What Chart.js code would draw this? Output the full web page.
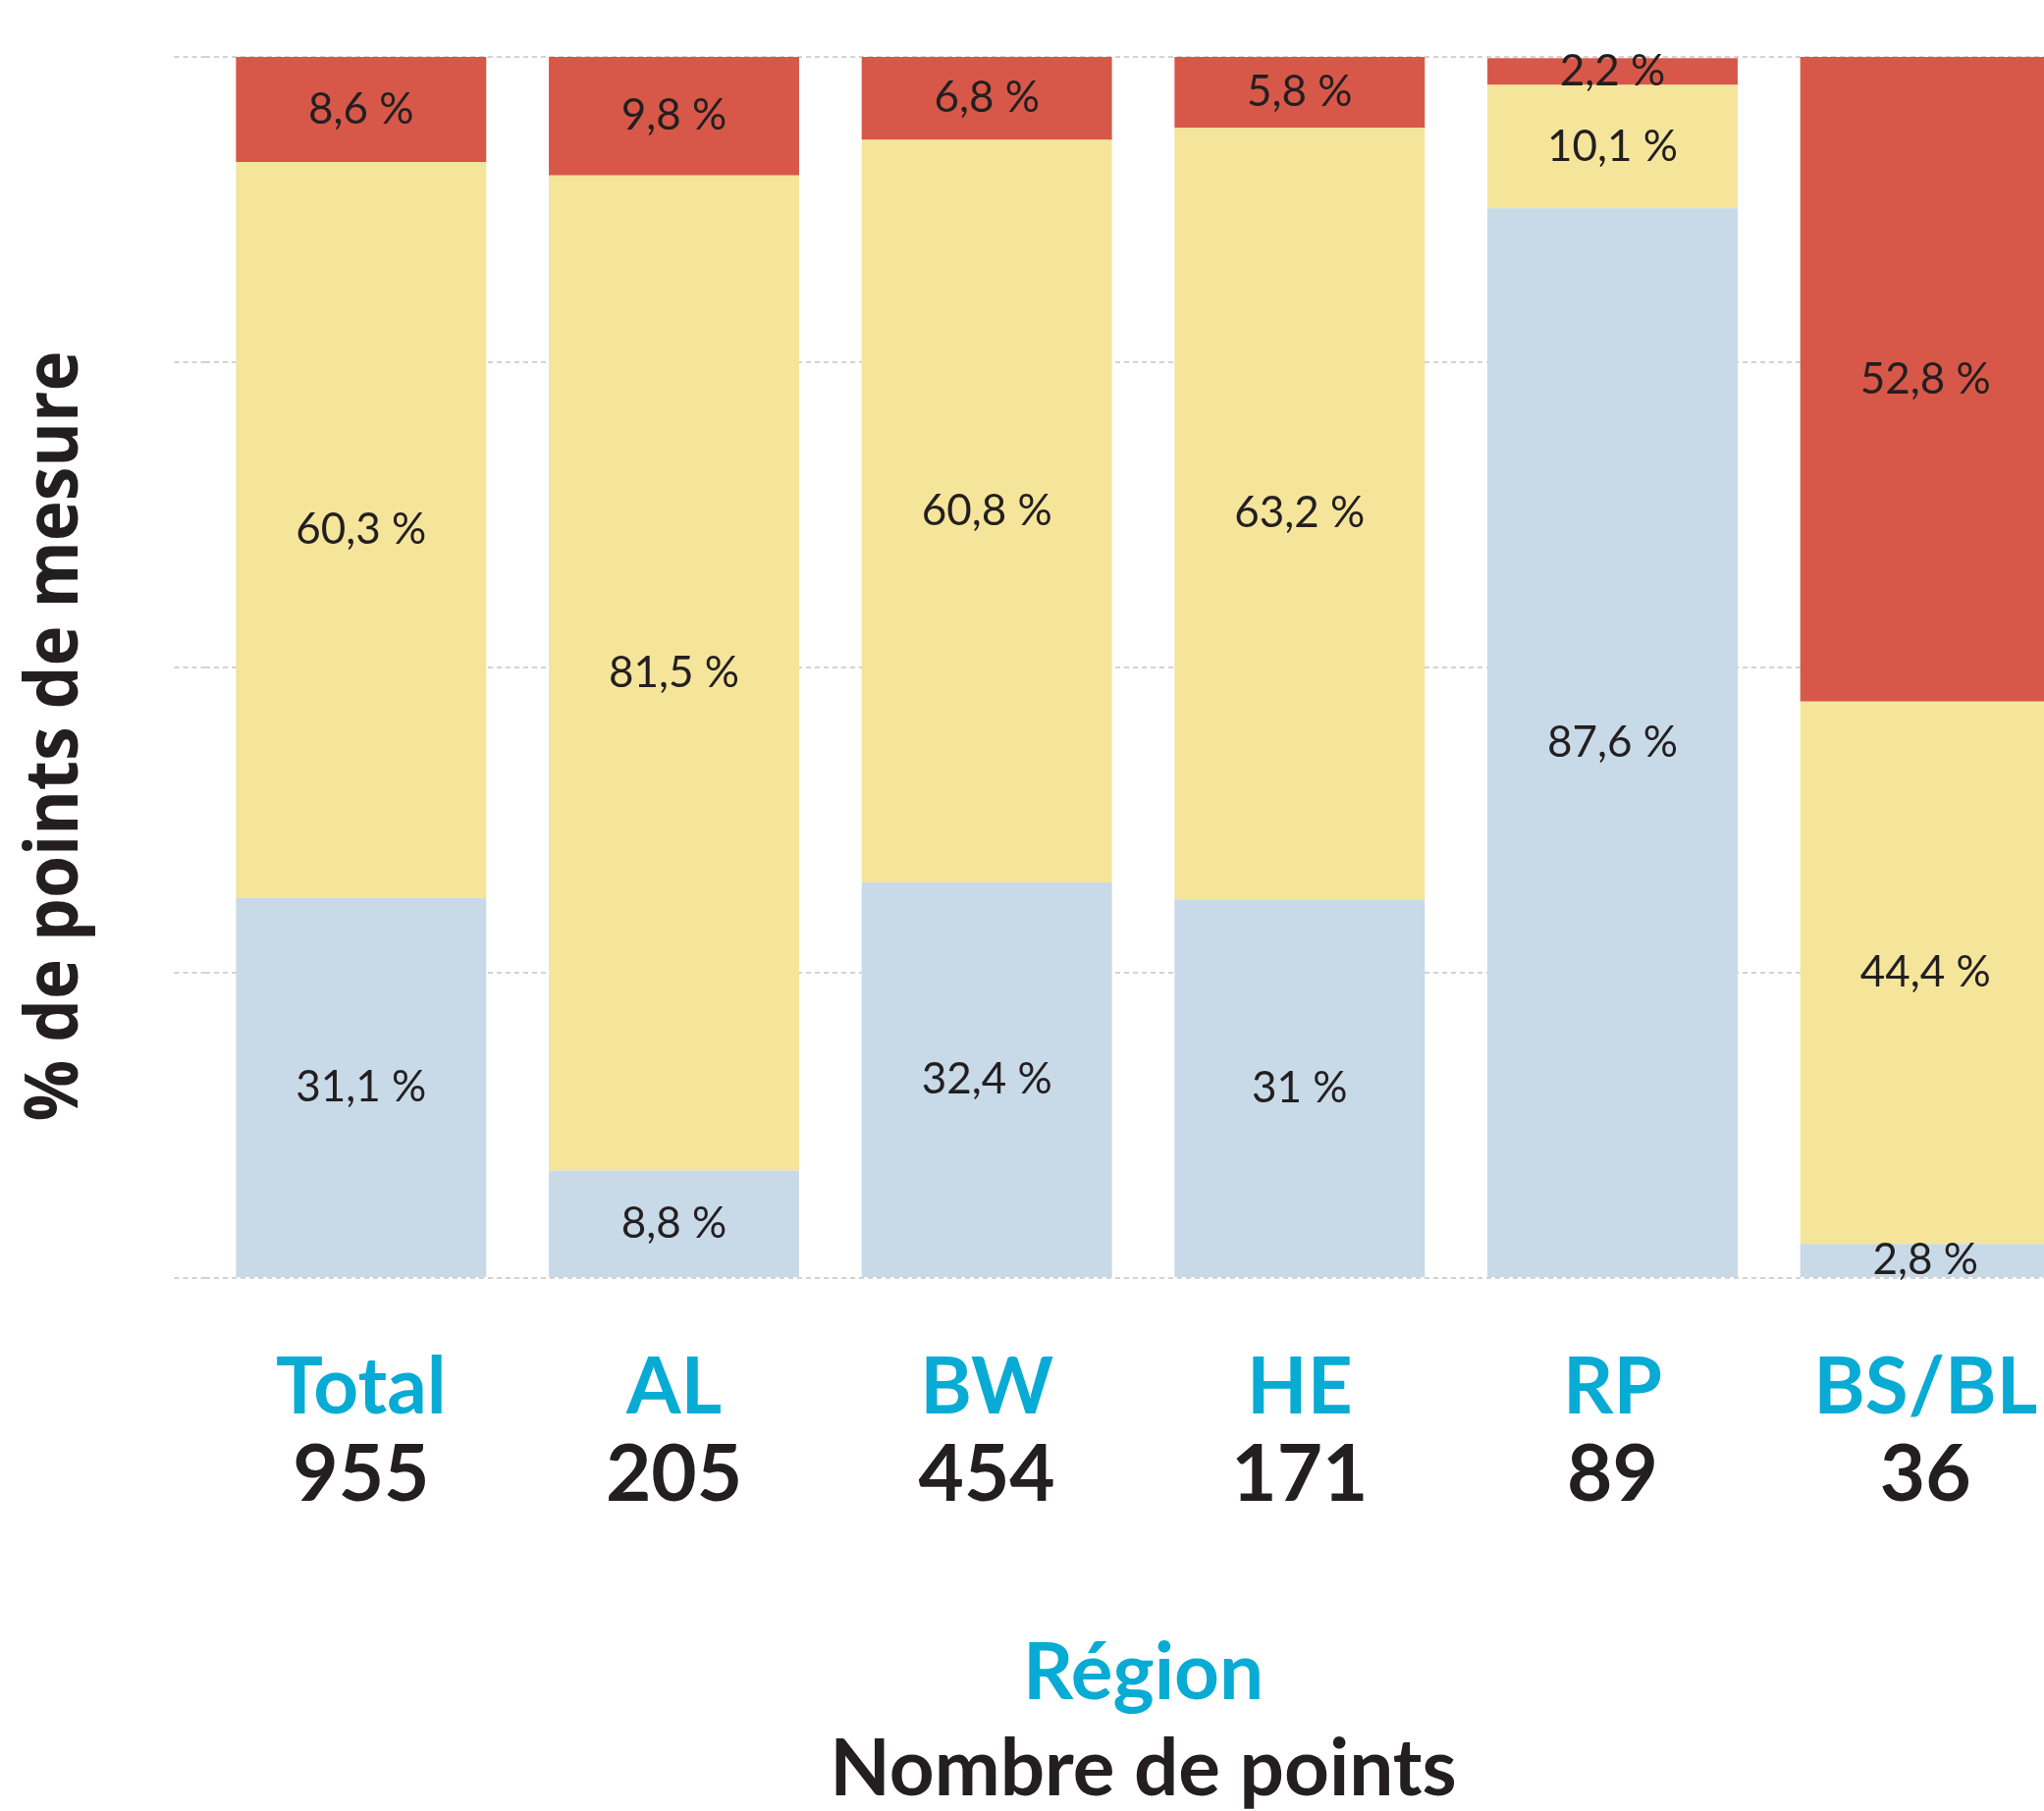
<!DOCTYPE html>
<html lang="fr">
<head>
<meta charset="utf-8">
<title>% de points de mesure par région</title>
<script src="https://cdn.jsdelivr.net/npm/chart.js@4"></script>
<style>
    html, body { margin: 0; padding: 0; background: #ffffff; overflow: hidden; }
    #graphique { display: block; width: 2128px; height: 1845px; }
</style>
</head>
<body>
<canvas id="graphique" width="2128" height="1845"></canvas>
<script>
// Données
const regions = ['Total', 'AL', 'BW', 'HE', 'RP', 'BS/BL'];
const nombrePoints = ['955', '205', '454', '171', '89', '36'];
const partBleu = [31.1, 8.8, 32.4, 31, 87.6, 2.8];
const partJaune = [60.3, 81.5, 60.8, 63.2, 10.1, 44.4];
const partRouge = [8.6, 9.8, 6.8, 5.8, 2.2, 52.8];
const graduationsY = [0, 25, 50, 75, 100];

const titreY = '% de points de mesure';
const titreRegion = 'Région';
const titreNombre = 'Nombre de points';

const cyan = '#08abd4';
const noir = '#231f20';

function formatPct(v)
{
    return String(v).replace('.', ',') + ' %';
}

// Étiquettes au centre de chaque segment
const etiquettesPlugin = {
    id: 'etiquettes',
    afterDatasetsDraw: (chart) =>
    {
        const { ctx } = chart;
        ctx.save();
        ctx.font = '44px Lato';
        ctx.fillStyle = noir;
        ctx.textAlign = 'center';
        ctx.textBaseline = 'middle';
        chart.data.datasets.forEach((ds, i) =>
        {
            chart.getDatasetMeta(i).data.forEach((bar, j) =>
            {
                const { x, y, base } = bar.getProps(['x', 'y', 'base'], true);
                ctx.fillText(formatPct(ds.data[j]), x, (y + base) / 2);
            });
        });
        ctx.restore();
    }
};

// Titre vertical à gauche (un peu plus bas que le centre de l'axe)
const titreYPlugin = {
    id: 'titreY',
    afterDraw: (chart) =>
    {
        const { ctx } = chart;
        ctx.save();
        ctx.font = 'bold 76px "Open Sans"';
        const largeur = ctx.measureText(titreY).width;
        ctx.translate(79, 750);
        ctx.rotate(-Math.PI / 2);
        ctx.scale(785 / largeur, 1);
        ctx.fillStyle = noir;
        ctx.textAlign = 'center';
        ctx.textBaseline = 'alphabetic';
        ctx.fillText(titreY, 0, 0);
        ctx.restore();
    }
};

document.addEventListener('DOMContentLoaded', () =>
{
    // police des libellés du bas ; tickLength sert à placer chaque ligne
    const policeTicks = { family: 'Lato', weight: 'bold', size: 80, lineHeight: 0.8 };
    const policeTitre = { family: 'Lato', weight: 'bold', size: 80, lineHeight: 1 };
    const grilleInvisible = (longueur) => ({
        display: true,
        drawOnChartArea: false,
        drawTicks: true,
        tickLength: longueur,
        color: 'rgba(0,0,0,0)'
    });

    new Chart(document.getElementById('graphique'), {
        type: 'bar',
        data: {
            labels: regions,
            datasets: [
                { label: 'bleu', data: partBleu, backgroundColor: '#c8dae7' },
                { label: 'jaune', data: partJaune, backgroundColor: '#f5e59b' },
                { label: 'rouge', data: partRouge, backgroundColor: '#d75849' }
            ]
        },
        options: {
            responsive: false,
            animation: false,
            barPercentage: 1,
            categoryPercentage: 0.8,
            layout: { padding: { left: 177.5, top: 58, right: 7.5, bottom: 1 } },
            plugins: {
                legend: { display: false },
                tooltip: { enabled: false }
            },
            scales: {
                x: {
                    stacked: true,
                    grid: grilleInvisible(80),
                    border: { display: false },
                    ticks: { color: cyan, font: policeTicks, padding: 0, autoSkip: false, maxRotation: 0 }
                },
                x2: {
                    type: 'category',
                    labels: nombrePoints,
                    position: 'bottom',
                    grid: grilleInvisible(25),
                    border: { display: false },
                    ticks: { color: noir, font: policeTicks, padding: 0, autoSkip: false, maxRotation: 0 },
                    title: { display: true, text: titreRegion, color: cyan, font: policeTitre, padding: { top: 130, bottom: 18 } }
                },
                x3: {
                    type: 'category',
                    labels: nombrePoints,
                    position: 'bottom',
                    grid: { display: false, drawTicks: false },
                    border: { display: false },
                    ticks: { display: false },
                    title: { display: true, text: titreNombre, color: noir, font: policeTitre, padding: { top: 0, bottom: 1 } }
                },
                y: {
                    stacked: true,
                    min: 0,
                    max: 100,
                    afterBuildTicks: (axis) => { axis.ticks = graduationsY.map(v => ({ value: v })); },
                    ticks: { display: false },
                    grid: {
                        color: '#d3d3d3',
                        lineWidth: 2,
                        drawTicks: true,
                        tickLength: 31,
                        tickColor: '#d3d3d3',
                        tickBorderDash: [5, 4]
                    },
                    border: { display: false, dash: [5, 4] }
                }
            }
        },
        plugins: [etiquettesPlugin, titreYPlugin]
    });
});
</script>
</body>
</html>
